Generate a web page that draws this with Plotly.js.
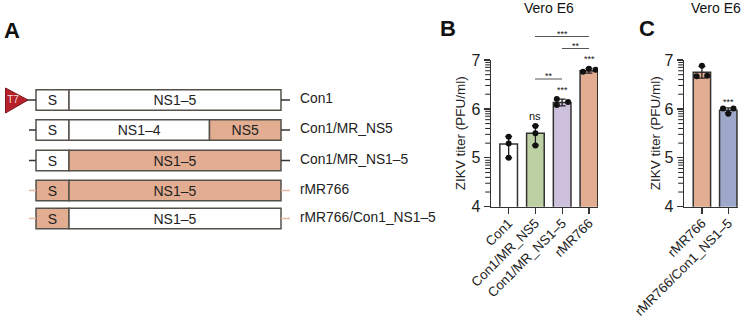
<!DOCTYPE html>
<html><head><meta charset="utf-8">
<script src="https://cdn.plot.ly/plotly-3.0.1.min.js"></script>
<style>html,body{margin:0;padding:0;background:#fff}#c{width:750px;height:320px}</style></head>
<body><div id="c"></div>
<script>
// Panel A: genome constructs
var constructNames = ['Con1','Con1/MR_NS5','Con1/MR_NS1–5','rMR766','rMR766/Con1_NS1–5'];
var rowPos = [100,130,160.5,190.5,218.5];
var segStart = [36,69,209.5];
var sRowFill = ['#ffffff','#ffffff','#ffffff','#e3ad91','#e3ad91'];
var midEnd = [281,209.5,281,281,281];
var midFill = ['#ffffff','#ffffff','#e3ad91','#e3ad91','#ffffff'];
var midText = ['NS1–5','NS1–4','NS1–5','NS1–5','NS1–5'];
var utrColor = ['#333333','#333333','#333333','#e8b79f','#e8b79f'];
var t7X = [5.5,28,5.5,5.5];
var t7Y = [88,100,113,88];
// Panel B
var bCats = ['Con1','Con1/MR_NS5','Con1/MR_NS1–5','rMR766'];
var bVals = [5.28,5.50,6.13,6.78];
var bFill = ['#ffffff','#bcd0a4','#cdc0dc','#e3ad91'];
var bErrUp = [0.16,0.16,0.07,0.05];
var bErrDn = [0.28,0.24,0.07,0.05];
var bPtsX = [0,0,0, 0,0,0, -0.2,-0.2,0.22, -0.22,0,0.25];
var bPtsB = [0,0,0, 1,1,1, 2,2,2, 3,3,3];
var bPtsY = [5.43,5.29,5.00, 5.65,5.50,5.25, 6.20,6.08,6.14, 6.76,6.82,6.80];
// Panel C
var cCats = ['rMR766','rMR766/Con1_NS1–5'];
var cVals = [6.75,5.97];
var cFill = ['#e3ad91','#9ea8cb'];
var cErr = [0.12,0.05];
var cPtsX = [0,-0.2,0.2, -0.2,0.2,0];
var cPtsB = [0,0,0,1,1,1];
var cPtsY = [6.88,6.67,6.68, 6.01,6.01,5.90];
var yTicks = [4,5,6,7];
var yMinor = [4.3,4.48,4.6,4.7,4.78,4.85,4.9,4.95,5.3,5.48,5.6,5.7,5.78,5.85,5.9,5.95,6.3,6.48,6.6,6.7,6.78,6.85,6.9,6.95];
var FONT = 'Liberation Sans, Arial, sans-serif';
var INK = '#333333';
var data = [];
function seg(y,a,b,fill,label){
  data.push({type:'bar',orientation:'h',xaxis:'x',yaxis:'y',y:[y],x:[b-a],base:[a],width:[20.5],
    marker:{color:fill,line:{color:'#555049',width:1.5}},text:[label],textposition:'inside',insidetextanchor:'middle',
    constraintext:'none',textangle:0,insidetextfont:{family:FONT,size:14,color:'#222'},hoverinfo:'skip',showlegend:false});
}
constructNames.forEach(function(n,i){
  var y=rowPos[i];
  if(i>0) data.push({type:'scatter',mode:'lines',xaxis:'x',yaxis:'y',x:[29,36],y:[y,y],line:{color:utrColor[i],width:1.5},hoverinfo:'skip',showlegend:false});
  else data.push({type:'scatter',mode:'lines',xaxis:'x',yaxis:'y',x:[26,36],y:[y,y],line:{color:utrColor[i],width:1.5},hoverinfo:'skip',showlegend:false});
  data.push({type:'scatter',mode:'lines',xaxis:'x',yaxis:'y',x:[281,290],y:[y,y],line:{color:utrColor[i],width:1.5},hoverinfo:'skip',showlegend:false});
  seg(y,segStart[0],segStart[1],sRowFill[i],'S');
  seg(y,segStart[1],midEnd[i],midFill[i],midText[i]);
  if(midEnd[i]<281) seg(y,segStart[2],281,'#e3ad91','NS5');
  data.push({type:'scatter',mode:'text',xaxis:'x',yaxis:'y',x:[300],y:[y],text:[n],textposition:'middle right',cliponaxis:false,textfont:{family:FONT,size:13.8,color:'#222'},hoverinfo:'skip',showlegend:false});
});
data.push({type:'scatter',mode:'lines',xaxis:'x',yaxis:'y',x:t7X,y:t7Y,fill:'toself',fillcolor:'#b5202a',line:{color:'#7d1a20',width:1},hoverinfo:'skip',showlegend:false});
data.push({type:'scatter',mode:'text',xaxis:'x',yaxis:'y',x:[13],y:[rowPos[0]],text:['T7'],textfont:{family:FONT,size:10,color:'#f5dcdc'},hoverinfo:'skip',showlegend:false});
function panel(ax,ay,cats,vals,fill,eu,ed,px,pb,py,minorX){
  data.push({type:'bar',xaxis:ax,yaxis:ay,x:cats.map(function(c,i){return i}),y:vals,width:0.66,
    marker:{color:fill,line:{color:'#333',width:1.5}},
    error_y:{type:'data',symmetric:false,array:eu,arrayminus:ed,color:'#222',thickness:1.3,width:3.5},hoverinfo:'skip',showlegend:false});
  data.push({type:'scatter',mode:'markers',xaxis:ax,yaxis:ay,x:pb.map(function(b,i){return b+px[i]}),y:py,
    marker:{size:6,color:'#111'},hoverinfo:'skip',showlegend:false});
  // small log-style ticks, placed on the full-width overlay axis
  data.push({type:'scatter',mode:'markers',xaxis:'x',yaxis:ay,x:yMinor.map(function(){return minorX}),y:yMinor,
    marker:{symbol:'line-ew',size:4,line:{color:'#222222',width:1}},hoverinfo:'skip',showlegend:false});
}
panel('x2','y2',bCats,bVals,bFill,bErrUp,bErrDn,bPtsX,bPtsB,bPtsY,488);
panel('x3','y3',cCats,cVals,cFill,cErr,cErr,cPtsX,cPtsB,cPtsY,681);
function yax(dom,anchor,st){return {domain:dom,anchor:anchor,range:[4,7],tickmode:'array',tickvals:yTicks,ticktext:yTicks.map(String),
  ticks:'outside',ticklen:6,tickwidth:1.3,tickcolor:INK,showline:true,linecolor:INK,linewidth:1.5,showgrid:false,zeroline:false,
  tickfont:{family:FONT,size:16,color:'#222'},
  title:{text:'ZIKV titer (PFU/ml)',font:{family:FONT,size:13.5,color:'#222'},standoff:st}};}
function xax(x0,x1,lo,hi,cats,anchor){return {domain:[x0/750,x1/750],anchor:anchor,range:[lo,hi],tickmode:'array',tickvals:cats.map(function(c,i){return i}),ticktext:cats,
  tickangle:-45,ticks:'outside',ticklen:6,tickwidth:1.3,tickcolor:INK,showline:true,linecolor:INK,linewidth:1.5,showgrid:false,zeroline:false,
  ticklabelstandoff:-4,tickfont:{family:FONT,size:13.3,color:'#222'}};}
var yd=[1-206.7/320,1-60/320];
var layout={width:750,height:320,margin:{l:0,r:0,t:0,b:0},paper_bgcolor:'#fff',plot_bgcolor:'rgba(0,0,0,0)',showlegend:false,barmode:'overlay',
  xaxis:{domain:[0,1],range:[0,750],visible:false,anchor:'y',fixedrange:true},
  yaxis:{domain:[0,1],range:[320,0],visible:false,anchor:'x',fixedrange:true},
  xaxis2:xax(491,598,-0.66,3.34,bCats,'y2'),
  yaxis2:yax(yd,'x2',2),
  xaxis3:xax(684,738,-0.68,1.37,cCats,'y3'),
  yaxis3:yax(yd,'x3',0),
  shapes:[
    {type:'line',xref:'paper',yref:'paper',x0:535/750,x1:589/750,y0:1-36.5/320,y1:1-36.5/320,line:{color:'#555',width:1}},
    {type:'line',xref:'paper',yref:'paper',x0:562/750,x1:589/750,y0:1-48.5/320,y1:1-48.5/320,line:{color:'#555',width:1}},
    {type:'line',xref:'paper',yref:'paper',x0:535/750,x1:562/750,y0:1-79/320,y1:1-79/320,line:{color:'#555',width:1}}
  ],
  annotations:[
    ['A',12,30,22,true],['B',448,29,22,true],['C',647,29,22,true],
    ['Vero E6',548.5,8,14,false],['Vero E6',715.5,8,14,false],
    ['ns',535,116,11,false],
    ['***',562,34,9,false],['**',575.5,46,9,false],['**',549,76,9,false],
    ['***',562,90,9,false],['***',589,59,9,false],['***',728,102,9,false]
  ].map(function(a){return {xref:'paper',yref:'paper',x:a[1]/750,y:1-a[2]/320,text:a[4]?'<b>'+a[0]+'</b>':a[0],showarrow:false,xanchor:'center',yanchor:'middle',font:{family:FONT,size:a[3],color:'#111'}}})
};
Plotly.newPlot('c',data,layout,{staticPlot:true,displayModeBar:false});
</script></body></html>
